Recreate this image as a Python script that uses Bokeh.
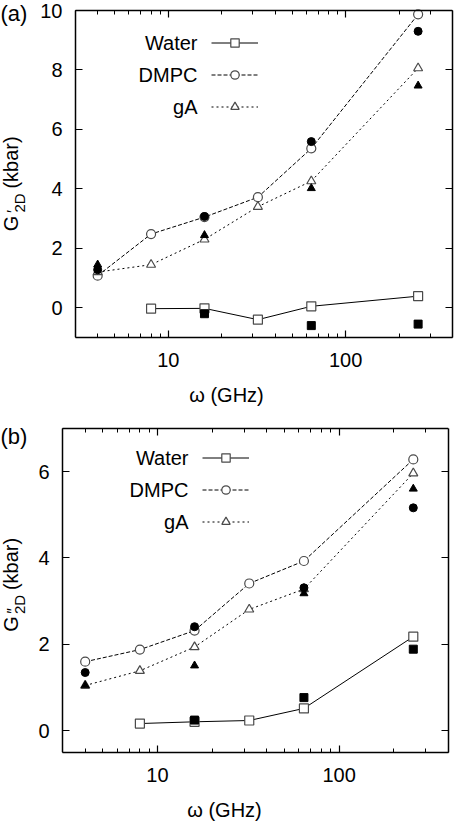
import math
from bokeh.plotting import figure
from bokeh.models import (LogAxis, LinearAxis, FixedTicker, BasicTickFormatter,
                          Label, Legend, LegendItem, Range1d)
from bokeh.embed import file_html
from bokeh.resources import INLINE

FONT = "Liberation Sans"

# ---------------- data ----------------
x_all = [4, 8, 16, 32, 64, 256]
x_water = [8, 16, 32, 64, 256]
x_filled = [4, 16, 64, 256]
x_water_filled = [16, 64, 256]

# panel (a): G'_2D
a_water = [-0.03, -0.02, -0.40, 0.05, 0.39]
a_dmpc = [1.08, 2.48, 3.05, 3.72, 5.36, 9.87]
a_ga = [1.20, 1.45, 2.30, 3.40, 4.26, 8.06]
a_water_f = [-0.20, -0.60, -0.55]
a_dmpc_f = [1.28, 3.07, 5.59, 9.30]
a_ga_f = [1.45, 2.44, 4.02, 7.47]

# panel (b): G''_2D
b_water = [0.17, 0.21, 0.24, 0.52, 2.18]
b_dmpc = [1.60, 1.88, 2.32, 3.41, 3.93, 6.28]
b_ga = [1.05, 1.39, 1.94, 2.81, 3.28, 5.96]
b_water_f = [0.25, 0.77, 1.89]
b_dmpc_f = [1.35, 2.41, 3.31, 5.16]
b_ga_f = [1.05, 1.51, 3.18, 5.60]

x_lim = (3, 400)
x_major = [10, 100]
x_minor = [3, 4, 5, 6, 7, 8, 9, 20, 30, 40, 50, 60, 70, 80, 90, 200, 300, 400]
a_ylim = (-1, 10)
b_ylim = (-0.5, 7)
a_yticks = [0, 2, 4, 6, 8, 10]
b_yticks = [0, 2, 4, 6]
legend_names = ["Water", "DMPC", "gA"]

OPEN = "#4a4a4a"


def style_axis(ax, labels=True):
    ax.axis_line_color = "black"
    ax.axis_line_width = 1.5
    ax.major_tick_in = 7
    ax.major_tick_out = 0
    ax.minor_tick_in = 4
    ax.minor_tick_out = 0
    ax.major_tick_line_width = 1.2
    ax.minor_tick_line_width = 1.0
    if labels:
        ax.major_label_text_font = FONT
        ax.major_label_text_font_size = "20px"
        ax.major_label_text_color = "black"
        ax.major_label_standoff = 13
    else:
        ax.major_label_text_font_size = "1px"
        ax.major_label_text_color = None
        ax.major_label_standoff = 0


def ylabel_piece(text, x, y, size):
    # rotated text, anchored at its centre
    return Label(x=x, y=y, x_units="screen", y_units="screen", text=text,
                 angle=math.pi / 2, text_align="center", text_baseline="middle",
                 text_font=FONT, text_font_size=size, text_color="black")


def panel(tag, prime, ylim, yticks, water, dmpc, ga, water_f, dmpc_f, ga_f,
          box_left, box_right, box_top, frame_h, fig_h, ypos, leg_top, leg_x, txt_x,
          tag_top):
    # frame spans the whole canvas width/top so that the texts left of the box stay
    # inside it; the plot box itself is drawn by the four bounded axes.
    box_w = box_right - box_left
    lx0, lx1 = math.log10(x_lim[0]), math.log10(x_lim[1])
    ppd = box_w / (lx1 - lx0)
    x_start = 10 ** (lx0 - box_left / ppd)
    box_h = frame_h - box_top
    ppu = box_h / (ylim[1] - ylim[0])
    y_end = ylim[1] + box_top / ppu

    p = figure(x_axis_type="log", x_range=Range1d(x_start, x_lim[1]),
               y_range=Range1d(ylim[0], y_end),
               width=455, height=fig_h,
               min_border_left=0, min_border_right=455 - box_right, min_border_top=0,
               min_border_bottom=fig_h - frame_h, output_backend="svg",
               toolbar_location=None,
               background_fill_color="white", border_fill_color="white")
    p.grid.visible = False
    p.outline_line_color = None

    xt = FixedTicker(ticks=x_major, minor_ticks=x_minor)
    yt = FixedTicker(ticks=yticks, minor_ticks=[])
    p.xaxis.ticker = xt
    p.xaxis.formatter = BasicTickFormatter()
    p.yaxis.ticker = yt
    for ax in p.xaxis + p.yaxis:
        style_axis(ax)
    p.xaxis.bounds = x_lim
    p.yaxis.bounds = ylim
    p.yaxis.fixed_location = x_lim[0]
    p.xaxis.major_label_standoff = 15
    p.xaxis.axis_label = "ω (GHz)"
    p.xaxis.axis_label_text_font = FONT
    p.xaxis.axis_label_text_font_size = "20px"
    p.xaxis.axis_label_text_font_style = "normal"
    p.xaxis.axis_label_text_color = "black"
    p.xaxis.axis_label_standoff = 14

    top = LogAxis(ticker=xt, bounds=x_lim, fixed_location=ylim[1])
    style_axis(top, labels=False)
    p.add_layout(top, "above")
    right = LinearAxis(ticker=yt, bounds=ylim)
    style_axis(right, labels=False)
    p.add_layout(right, "right")

    # series
    lw = p.line(x_water, water, line_color="black", line_width=1)
    sw = p.scatter(x_water, water, marker="square", size=9, fill_color="white",
                   line_color=OPEN, line_width=1.2)
    ld = p.line(x_all, dmpc, line_color="black", line_width=1, line_dash="4 2")
    sd = p.scatter(x_all, dmpc, marker="circle", size=9, fill_color="white",
                   line_color=OPEN, line_width=1.2)
    lg = p.line(x_all, ga, line_color="black", line_width=1, line_dash="2 3")
    sg = p.scatter(x_all, ga, marker="triangle", size=9, fill_color="white",
                   line_color=OPEN, line_width=1.2)
    p.scatter(x_water_filled, water_f, marker="square", size=8, fill_color="black",
              line_color="black")
    p.scatter(x_filled, dmpc_f, marker="circle", size=8, fill_color="black",
              line_color="black")
    p.scatter(x_filled, ga_f, marker="triangle", size=8, fill_color="black",
              line_color="black")

    # legend: samples on the right of right-aligned names
    gh, sp = 21, 11
    leg_h = 3 * gh + 2 * sp
    legend = Legend(items=[LegendItem(label=" ", renderers=[lw, sw]),
                           LegendItem(label=" ", renderers=[ld, sd]),
                           LegendItem(label=" ", renderers=[lg, sg])],
                    location=(leg_x, frame_h - leg_top - leg_h),
                    glyph_width=47, glyph_height=gh, spacing=sp, padding=0, margin=0,
                    label_standoff=0, label_width=1, label_height=gh,
                    label_text_font_size="2px", border_line_color=None,
                    background_fill_alpha=0)
    p.add_layout(legend)
    for i, name in enumerate(legend_names):
        yc = frame_h - leg_top - gh / 2 - i * (gh + sp)
        p.add_layout(Label(x=txt_x, y=yc, x_units="screen", y_units="screen",
                           text=name, text_align="right", text_baseline="middle",
                           text_font=FONT, text_font_size="20px", text_color="black"))

    # y-axis label  G'_2D (kbar), built from pieces, rotated (centre positions)
    yg, yp, ys, yk = ypos
    p.add_layout(ylabel_piece("G", 10.6, yg, "20px"))
    p.add_layout(ylabel_piece(prime, 12.5, yp, "16px"))
    p.add_layout(ylabel_piece("2D", 18.5, ys, "15px"))
    p.add_layout(ylabel_piece("(kbar)", 10.6, yk, "20px"))
    # panel tag
    p.add_layout(Label(x=0, y=frame_h - tag_top, x_units="screen", y_units="screen",
                       text=tag, text_align="left", text_baseline="top",
                       text_font=FONT, text_font_size="22px", text_color="black"))
    return p


pa = panel("(a)", "′", a_ylim, a_yticks, a_water, a_dmpc, a_ga,
           a_water_f, a_dmpc_f, a_ga_f,
           box_left=75, box_right=452, box_top=10, frame_h=337, fig_h=410,
           ypos=(114, 126, 134.5, 175), leg_top=32, leg_x=211, txt_x=197,
           tag_top=0)
pb = panel("(b)", "″", b_ylim, b_yticks, b_water, b_dmpc, b_ga,
           b_water_f, b_dmpc_f, b_ga_f,
           box_left=62, box_right=448, box_top=18, frame_h=346, fig_h=413,
           ypos=(128.5, 141.5, 148, 188.5), leg_top=41, leg_x=202, txt_x=188,
           tag_top=17)

open("out.html", "w").write(file_html([pa, pb], INLINE))
